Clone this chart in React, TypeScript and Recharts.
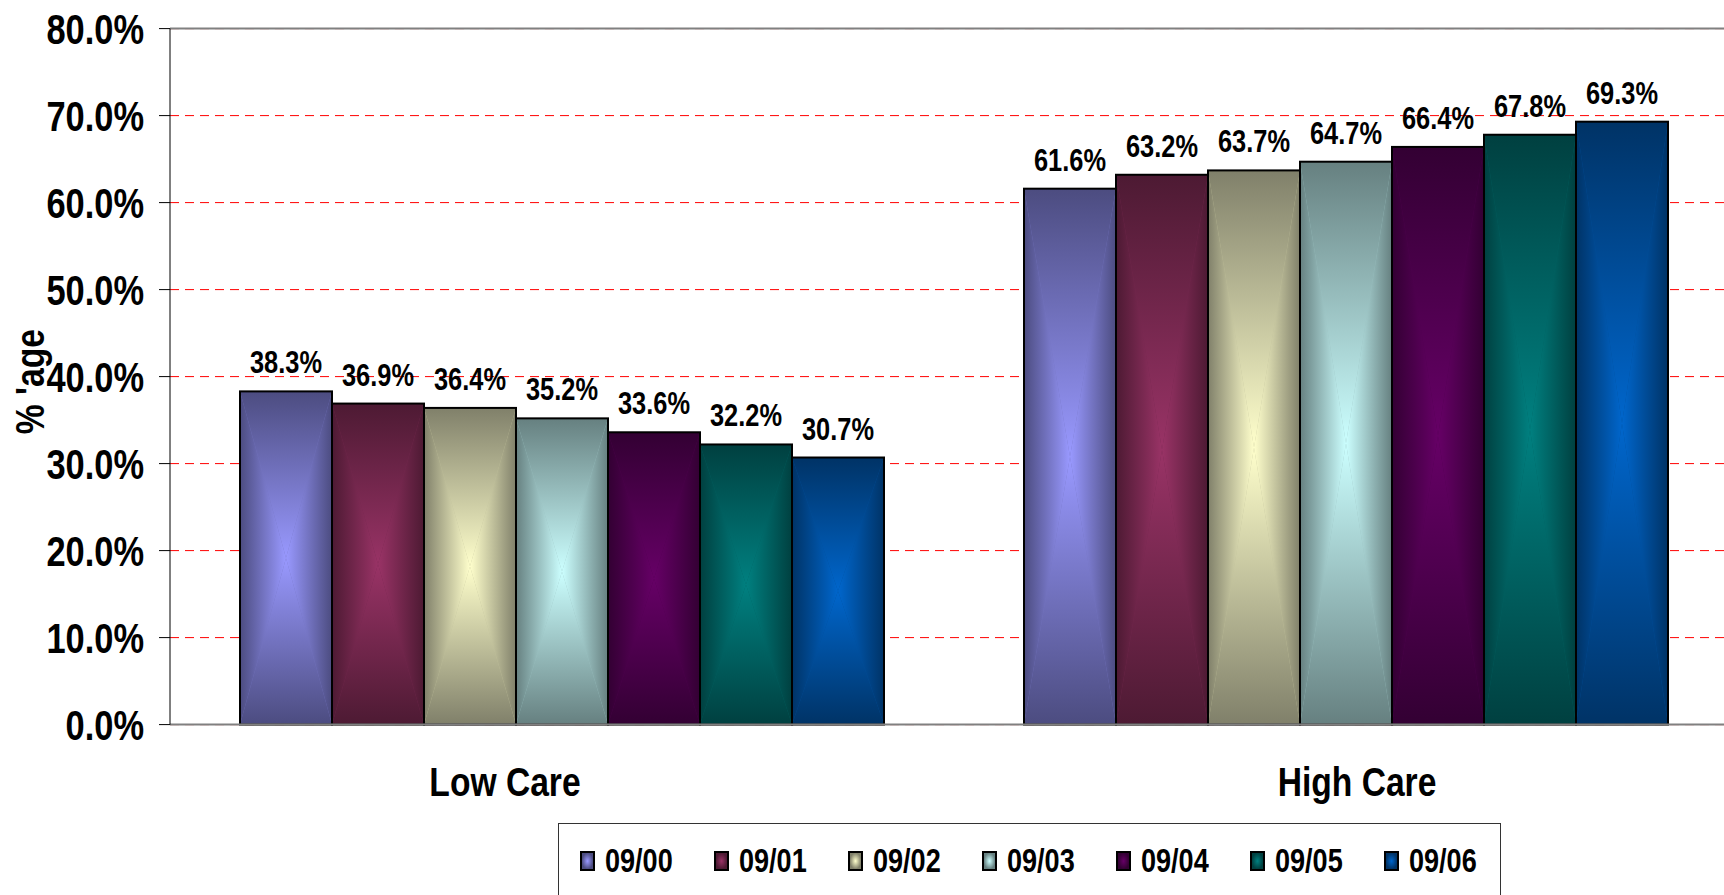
import React from 'react';
import { BarChart, Bar, XAxis, YAxis, CartesianGrid, LabelList, Legend, ReferenceLine } from 'recharts';

// ---- data ----
const categories = ['Low Care', 'High Care'];
const seriesNames = ['09/00', '09/01', '09/02', '09/03', '09/04', '09/05', '09/06'];
const s0900 = [38.3, 61.6];
const s0901 = [36.9, 63.2];
const s0902 = [36.4, 63.7];
const s0903 = [35.2, 64.7];
const s0904 = [33.6, 66.4];
const s0905 = [32.2, 67.8];
const s0906 = [30.7, 69.3];
const seriesValues = [s0900, s0901, s0902, s0903, s0904, s0905, s0906];
const yTicks = [0, 10, 20, 30, 40, 50, 60, 70, 80];
const yLabel = "% 'age";

// ---- styles ----
const lightColors = ['#9999ff', '#993366', '#ffffcc', '#ccffff', '#660066', '#008080', '#0066cc'];
const darkColors = ['#4c4c80', '#4d1a33', '#80806a', '#668080', '#330033', '#004040', '#003366'];
const midColors = ['#7373bf', '#73264d', '#bfbf99', '#99bfbf', '#4d004d', '#006060', '#004d99'];
const FONT = "'Liberation Sans', Arial, sans-serif";
const NARROW = 0.82;

const data = categories.map((c, ci) => {
  const row: any = { category: c };
  seriesNames.forEach((s, si) => {
    row[s] = seriesValues[si][ci];
  });
  return row;
});

const fmt = (v: any) => Number(v).toFixed(1) + '%';

const NarrowText = ({ x, y, anchor = 'middle', size, dy, rotate = 0, children }: any) => (
  <text
    transform={`translate(${x} ${y}) rotate(${rotate}) scale(${NARROW} 1)`}
    x={0}
    y={0}
    dy={dy}
    textAnchor={anchor}
    fontSize={size}
    fontWeight="bold"
    fill="#000"
    fontFamily={FONT}
  >
    {children}
  </text>
);

const makeShape = (i: number) => (props: any) => {
  const { x, y, width: w, height: h } = props;
  if (x == null || y == null || !w || !h) return <g />;
  const cx = x + w / 2;
  const cy = y + h / 2;
  return (
    <g>
      <rect x={x} y={y} width={w} height={h} fill={midColors[i]} />
      <polygon points={`${x},${y} ${x + w},${y} ${cx},${cy}`} fill={`url(#gt${i})`} />
      <polygon points={`${x},${y + h} ${x + w},${y + h} ${cx},${cy}`} fill={`url(#gb${i})`} />
      <polygon points={`${x},${y} ${x},${y + h} ${cx},${cy}`} fill={`url(#gl${i})`} />
      <polygon points={`${x + w},${y} ${x + w},${y + h} ${cx},${cy}`} fill={`url(#gr${i})`} />
      <rect x={x} y={y} width={w} height={h} fill="none" stroke="#000" strokeWidth={2} />
    </g>
  );
};

const catOffsets = [-57, 11];
const CatTick = (props: any) => {
  const { x, y, payload, index } = props;
  return (
    <NarrowText x={x + (catOffsets[index] || 0)} y={y + 71} size={41}>
      {payload.value}
    </NarrowText>
  );
};

const YTick = (props: any) => {
  const { x, y, payload } = props;
  return (
    <NarrowText x={x} y={y} anchor="end" dy="0.355em" size={42}>
      {fmt(payload.value)}
    </NarrowText>
  );
};

const renderYLabel = (p: any) => {
  const vb = p && p.viewBox;
  const cy = vb && vb.height ? vb.y + vb.height / 2 + 5 : 381;
  return (
    <NarrowText x={44} y={cy} rotate={-90} size={41}>
      {yLabel}
    </NarrowText>
  );
};

const renderValueLabel = (p: any) => {
  const { x, y, width, value } = p;
  if (x == null || y == null) return null;
  return (
    <NarrowText x={x + width / 2} y={y - 18} size={31}>
      {fmt(value)}
    </NarrowText>
  );
};

const LegendBox = () => (
  <div
    style={{
      position: 'relative',
      width: 943,
      height: 100,
      boxSizing: 'border-box',
      border: '1px solid #333',
      background: '#fff',
      fontFamily: FONT,
    }}
  >
    {seriesNames.map((s, i) => (
      <div key={s} style={{ position: 'absolute', left: 21 + i * 134, top: 27, height: 20 }}>
        <div
          style={{
            position: 'absolute',
            left: 0,
            top: 0,
            width: 15,
            height: 20,
            boxSizing: 'border-box',
            border: '2px solid #000',
            background: `radial-gradient(closest-side, ${lightColors[i]}, ${darkColors[i]})`,
          }}
        />
        <span
          style={{
            position: 'absolute',
            left: 25,
            top: -7,
            fontSize: 33,
            fontWeight: 'bold',
            color: '#000',
            lineHeight: '34px',
            whiteSpace: 'nowrap',
            transform: `scaleX(${NARROW})`,
            transformOrigin: '0 0',
          }}
        >
          {s}
        </span>
      </div>
    ))}
  </div>
);

export default function App() {
  return (
    <div
      style={{
        position: 'fixed',
        left: 0,
        top: 0,
        width: 1724,
        height: 895,
        overflow: 'hidden',
        background: '#fff',
        fontFamily: FONT,
      }}
    >
      <BarChart
        width={1738}
        height={895}
        data={data}
        margin={{ top: 28.6, right: 0, bottom: 70.4, left: 0 }}
        barCategoryGap={70}
        barGap={0}
      >
        <defs>
          {lightColors.map((lc, i) => (
            <React.Fragment key={i}>
              <linearGradient id={`gt${i}`} x1="0" y1="0" x2="0" y2="1">
                <stop offset="0" stopColor={darkColors[i]} />
                <stop offset="1" stopColor={lc} />
              </linearGradient>
              <linearGradient id={`gb${i}`} x1="0" y1="0" x2="0" y2="1">
                <stop offset="0" stopColor={lc} />
                <stop offset="1" stopColor={darkColors[i]} />
              </linearGradient>
              <linearGradient id={`gl${i}`} x1="0" y1="0" x2="1" y2="0">
                <stop offset="0" stopColor={darkColors[i]} />
                <stop offset="1" stopColor={lc} />
              </linearGradient>
              <linearGradient id={`gr${i}`} x1="0" y1="0" x2="1" y2="0">
                <stop offset="0" stopColor={lc} />
                <stop offset="1" stopColor={darkColors[i]} />
              </linearGradient>
            </React.Fragment>
          ))}
        </defs>
        <CartesianGrid vertical={false} stroke="#ff0000" strokeDasharray="9 6" strokeWidth={1} />
        <XAxis
          dataKey="category"
          height={100}
          tickLine={false}
          tickSize={0}
          tickMargin={0}
          axisLine={{ stroke: '#808080', strokeWidth: 2 }}
          tick={<CatTick />}
          interval={0}
        />
        <YAxis
          domain={[0, 80]}
          ticks={yTicks}
          interval={0}
          width={170}
          tickSize={11}
          tickMargin={15}
          axisLine={{ stroke: '#000', strokeWidth: 1 }}
          tickLine={{ stroke: '#000', strokeWidth: 1 }}
          tick={<YTick />}
          label={{ position: 'insideLeft', content: renderYLabel }}
        />
        <ReferenceLine y={80} stroke="#808080" strokeWidth={2} />
        <Legend
          verticalAlign="middle"
          layout="horizontal"
          align="center"
          wrapperStyle={{ left: 558, top: 823, width: 943, height: 100 }}
          content={() => <LegendBox />}
        />
        {seriesNames.map((s, i) => (
          <Bar key={s} dataKey={s} fill={lightColors[i]} shape={makeShape(i)} isAnimationActive={false}>
            <LabelList dataKey={s} position="top" content={renderValueLabel} />
          </Bar>
        ))}
      </BarChart>
    </div>
  );
}
